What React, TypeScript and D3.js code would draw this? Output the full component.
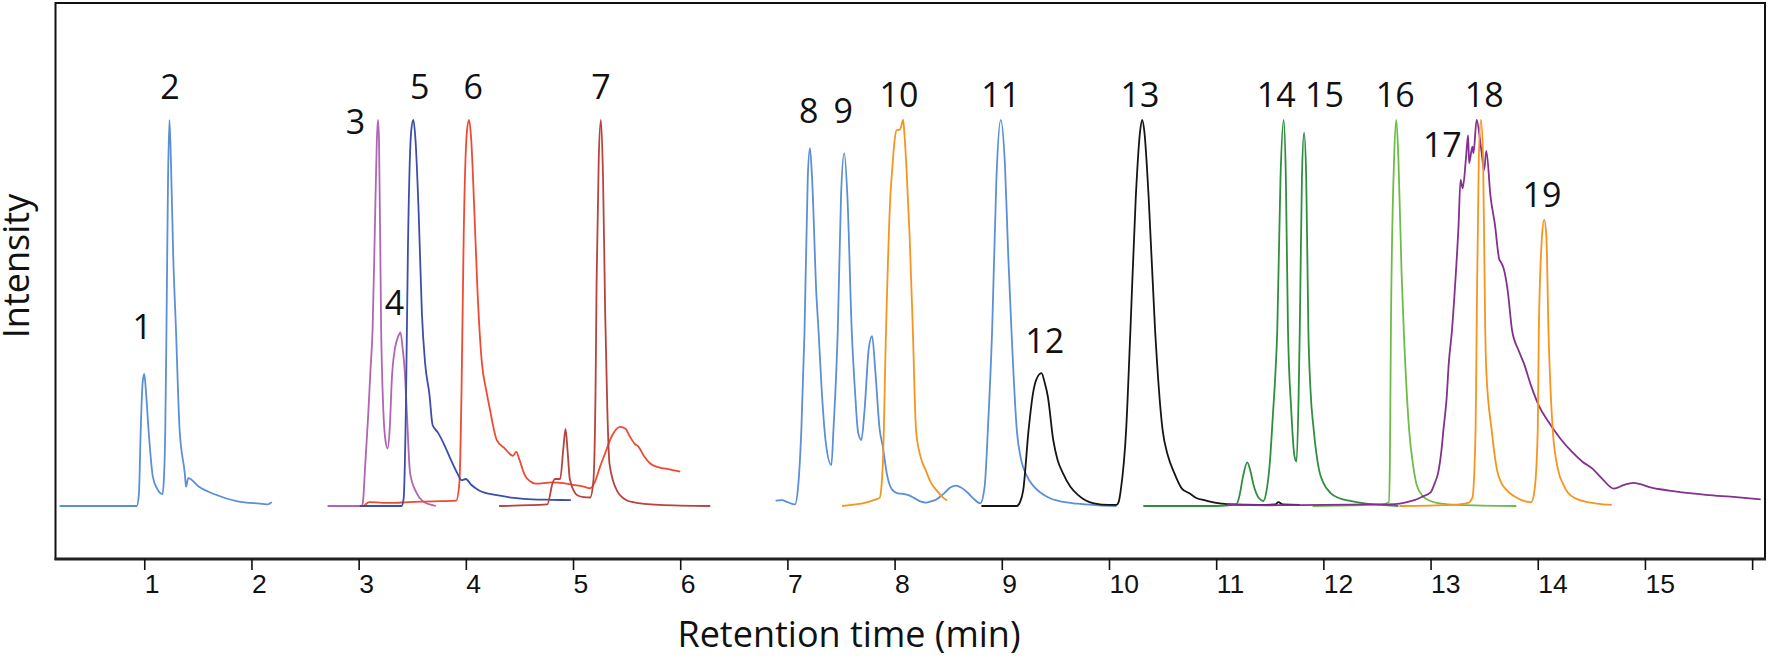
import React, { useEffect, useRef } from 'react';
import * as d3 from 'd3';

type Pt = [number, number];

// [retention time (min), relative intensity]
const trace1and2: Pt[] = [
  [0.21, 0], [0.93, 0], [0.95, 0.03], [0.967, 0.197], [0.985, 0.32], [1.0, 0.342], [1.015, 0.3],
  [1.04, 0.197], [1.08, 0.076], [1.12, 0.045], [1.17, 0.031], [1.185, 0.08], [1.196, 0.197],
  [1.207, 0.456], [1.222, 0.85], [1.235, 1.0], [1.25, 0.88], [1.27, 0.65], [1.296, 0.456],
  [1.33, 0.197], [1.378, 0.085], [1.39, 0.05], [1.41, 0.072], [1.51, 0.05], [1.65, 0.031],
  [1.87, 0.012], [2.12, 0.005], [2.15, 0.004], [2.19, 0.01]
];

const trace3and4: Pt[] = [
  [2.71, 0], [3.03, 0], [3.04, 0.01], [3.06, 0.1], [3.09, 0.24], [3.11, 0.35], [3.13, 0.456],
  [3.15, 0.7], [3.17, 0.95], [3.18, 1.0], [3.19, 0.95], [3.21, 0.456], [3.23, 0.25], [3.25, 0.17],
  [3.27, 0.149], [3.29, 0.2], [3.31, 0.33], [3.34, 0.41], [3.37, 0.44], [3.39, 0.45], [3.41, 0.41],
  [3.43, 0.35], [3.45, 0.24], [3.48, 0.085], [3.54, 0.034], [3.6, 0.012], [3.68, 0.003], [3.72, 0]
];

const trace5: Pt[] = [
  [3.01, 0], [3.4, 0], [3.42, 0.02], [3.44, 0.24], [3.46, 0.67], [3.49, 0.97], [3.51, 1.0],
  [3.53, 0.95], [3.56, 0.76], [3.59, 0.5], [3.62, 0.37], [3.66, 0.29], [3.69, 0.21], [3.74, 0.19],
  [3.8, 0.158], [3.86, 0.12], [3.92, 0.085], [3.96, 0.067], [4.0, 0.07], [4.05, 0.055],
  [4.12, 0.041], [4.29, 0.028], [4.45, 0.021], [4.62, 0.017], [4.8, 0.016], [4.98, 0.015]
];

const trace6: Pt[] = [
  [3.05, 0], [3.1, 0.01], [3.3, 0.008], [3.46, 0.01], [3.7, 0.012], [3.91, 0.014], [3.94, 0.06],
  [3.96, 0.3], [3.98, 0.7], [4.01, 0.97], [4.03, 1.0], [4.05, 0.95], [4.08, 0.76], [4.11, 0.55],
  [4.15, 0.37], [4.19, 0.3], [4.22, 0.257], [4.29, 0.17], [4.36, 0.15], [4.44, 0.13], [4.47, 0.14],
  [4.5, 0.12], [4.55, 0.08], [4.6, 0.064], [4.65, 0.058], [4.72, 0.059], [4.8, 0.061], [4.91, 0.059],
  [5.0, 0.055], [5.1, 0.05], [5.16, 0.046], [5.2, 0.06], [5.25, 0.1], [5.3, 0.137], [5.36, 0.18],
  [5.44, 0.205], [5.49, 0.2], [5.53, 0.18], [5.58, 0.16], [5.61, 0.154], [5.66, 0.13], [5.72, 0.11],
  [5.8, 0.1], [5.9, 0.095], [6.0, 0.089]
];

const trace7: Pt[] = [
  [4.31, 0], [4.76, 0.004], [4.81, 0.06], [4.83, 0.07], [4.88, 0.07], [4.91, 0.15], [4.93, 0.2],
  [4.95, 0.14], [4.97, 0.07], [5.04, 0.028], [5.1, 0.023], [5.16, 0.022], [5.19, 0.065],
  [5.21, 0.3], [5.22, 0.58], [5.24, 0.9], [5.26, 1.0], [5.28, 0.85], [5.3, 0.5], [5.32, 0.25],
  [5.34, 0.11], [5.41, 0.04], [5.5, 0.015], [5.56, 0.01], [5.8, 0.003], [6.28, 0]
];

const trace8to11: Pt[] = [
  [6.89, 0.014], [6.95, 0.015], [7.0, 0.01], [7.07, 0.004], [7.1, 0.05], [7.13, 0.197],
  [7.16, 0.456], [7.19, 0.85], [7.21, 0.927], [7.23, 0.85], [7.27, 0.55], [7.29, 0.456],
  [7.32, 0.3], [7.36, 0.16], [7.41, 0.106], [7.43, 0.2], [7.47, 0.456], [7.5, 0.8], [7.53, 0.914],
  [7.56, 0.8], [7.6, 0.456], [7.63, 0.3], [7.66, 0.19], [7.69, 0.171], [7.72, 0.25], [7.76, 0.41],
  [7.79, 0.44], [7.82, 0.35], [7.86, 0.2], [7.89, 0.154], [7.93, 0.08], [7.98, 0.041],
  [8.03, 0.033], [8.09, 0.031], [8.13, 0.028], [8.18, 0.021], [8.24, 0.012], [8.29, 0.009],
  [8.34, 0.012], [8.39, 0.017], [8.45, 0.03], [8.52, 0.048], [8.57, 0.053], [8.62, 0.048],
  [8.68, 0.035], [8.74, 0.018], [8.8, 0.007], [8.84, 0.05], [8.87, 0.197], [8.91, 0.456],
  [8.95, 0.85], [8.99, 1.0], [9.03, 0.88], [9.06, 0.65], [9.09, 0.456], [9.14, 0.197],
  [9.18, 0.12], [9.23, 0.08], [9.3, 0.05], [9.36, 0.035], [9.45, 0.02], [9.53, 0.013],
  [9.7, 0.006], [9.9, 0.002], [10.07, 0]
];

const trace10: Pt[] = [
  [7.51, 0], [7.6, 0.003], [7.75, 0.01], [7.83, 0.018], [7.86, 0.021], [7.88, 0.06], [7.89, 0.106],
  [7.92, 0.456], [7.96, 0.8], [7.98, 0.88], [8.0, 0.948], [8.02, 0.974], [8.05, 0.975], [8.08, 1.0],
  [8.09, 0.97], [8.11, 0.88], [8.14, 0.7], [8.17, 0.456], [8.2, 0.197], [8.24, 0.13], [8.29, 0.093],
  [8.34, 0.06], [8.39, 0.041], [8.44, 0.025], [8.49, 0.014]
];

const trace12and13: Pt[] = [
  [8.81, 0], [9.14, 0], [9.17, 0.01], [9.2, 0.041], [9.25, 0.197], [9.29, 0.29], [9.32, 0.326],
  [9.37, 0.344], [9.4, 0.32], [9.43, 0.283], [9.48, 0.171], [9.52, 0.12], [9.57, 0.085],
  [9.64, 0.05], [9.71, 0.029], [9.78, 0.015], [9.86, 0.007], [10.0, 0.003], [10.07, 0.003],
  [10.09, 0.01], [10.11, 0.041], [10.16, 0.197], [10.2, 0.456], [10.25, 0.8], [10.29, 0.97],
  [10.31, 1.0], [10.33, 0.97], [10.37, 0.8], [10.43, 0.456], [10.5, 0.197], [10.55, 0.13],
  [10.61, 0.085], [10.68, 0.045], [10.75, 0.033], [10.82, 0.02], [10.89, 0.015], [11.0, 0.008],
  [11.1, 0.005], [11.4, 0.003], [11.55, 0.004], [11.58, 0.01], [11.62, 0.004], [11.78, 0.003]
];

const trace14and15: Pt[] = [
  [10.32, 0], [11.0, 0], [11.19, 0.005], [11.22, 0.03], [11.25, 0.076], [11.29, 0.113],
  [11.32, 0.09], [11.35, 0.053], [11.4, 0.02], [11.44, 0.013], [11.47, 0.04], [11.5, 0.11],
  [11.53, 0.24], [11.55, 0.33], [11.57, 0.456], [11.6, 0.85], [11.63, 1.0], [11.65, 0.85],
  [11.67, 0.456], [11.7, 0.25], [11.73, 0.13], [11.75, 0.115], [11.77, 0.3], [11.78, 0.456],
  [11.8, 0.85], [11.82, 0.967], [11.84, 0.85], [11.86, 0.456], [11.88, 0.3], [11.91, 0.197],
  [11.96, 0.093], [12.0, 0.06], [12.07, 0.033], [12.15, 0.02], [12.25, 0.013], [12.4, 0.006],
  [12.53, 0.003], [12.7, 0]
];

const trace16: Pt[] = [
  [11.9, 0], [12.3, 0.002], [12.55, 0.004], [12.61, 0.01], [12.62, 0.1], [12.63, 0.456],
  [12.66, 0.9], [12.68, 1.0], [12.7, 0.9], [12.73, 0.6], [12.75, 0.456], [12.8, 0.197],
  [12.84, 0.1], [12.87, 0.055], [12.93, 0.025], [13.0, 0.013], [13.1, 0.006], [13.25, 0.003],
  [13.8, 0]
];

const trace17: Pt[] = [
  [11.1, 0.003], [11.5, 0.002], [12.0, 0.003], [12.4, 0.004], [12.67, 0.005], [12.78, 0.01],
  [12.85, 0.015], [12.93, 0.025], [13.0, 0.035], [13.04, 0.06], [13.07, 0.085], [13.1, 0.14],
  [13.12, 0.197], [13.15, 0.28], [13.17, 0.37], [13.2, 0.456], [13.23, 0.577], [13.26, 0.72],
  [13.28, 0.845], [13.3, 0.823], [13.33, 0.9], [13.35, 0.961], [13.36, 0.888], [13.39, 0.931],
  [13.4, 0.914], [13.43, 1.0], [13.47, 0.93], [13.5, 0.87], [13.52, 0.92], [13.56, 0.8],
  [13.6, 0.73], [13.64, 0.64], [13.66, 0.63], [13.68, 0.617], [13.72, 0.557], [13.76, 0.456],
  [13.82, 0.404], [13.87, 0.37], [13.94, 0.31], [14.01, 0.26], [14.1, 0.218], [14.21, 0.175],
  [14.32, 0.14], [14.42, 0.114], [14.51, 0.097], [14.6, 0.071], [14.71, 0.045], [14.8, 0.054],
  [14.89, 0.06], [15.07, 0.047], [15.28, 0.038], [15.57, 0.029], [15.85, 0.023], [16.08, 0.017]
];

const trace18and19: Pt[] = [
  [12.71, 0], [13.2, 0.003], [13.35, 0.008], [13.39, 0.021], [13.42, 0.197], [13.43, 0.456],
  [13.45, 0.9], [13.47, 1.0], [13.49, 0.9], [13.51, 0.456], [13.52, 0.35], [13.57, 0.197],
  [13.62, 0.093], [13.66, 0.06], [13.71, 0.041], [13.78, 0.025], [13.85, 0.015], [13.94, 0.01],
  [13.97, 0.041], [14.0, 0.197], [14.01, 0.456], [14.04, 0.7], [14.06, 0.741], [14.08, 0.7],
  [14.1, 0.456], [14.14, 0.197], [14.19, 0.093], [14.24, 0.055], [14.28, 0.035], [14.35, 0.02],
  [14.42, 0.013], [14.55, 0.006], [14.69, 0.003]
];

// peak numbers, anchored in data units (time, intensity)
const peakNames = ['1', '2', '3', '4', '5', '6', '7', '8', '9', '10', '11', '12', '13', '14', '15', '16', '17', '18', '19'];
const peakLabelTimes = [0.98, 1.24, 2.97, 3.335, 3.57, 4.07, 5.26, 7.2, 7.52, 8.04, 8.99, 9.4, 10.29, 11.56, 12.01, 12.67, 13.11, 13.5, 14.04];
const peakLabelHeights = [0.433, 1.054, 0.964, 0.495, 1.054, 1.054, 1.054, 0.992, 0.992, 1.034, 1.034, 0.396, 1.034, 1.034, 1.034, 1.034, 0.904, 1.034, 0.775];

const xTicks = [1, 2, 3, 4, 5, 6, 7, 8, 9, 10, 11, 12, 13, 14, 15, 16];
const xTickLabels = ['1', '2', '3', '4', '5', '6', '7', '8', '9', '10', '11', '12', '13', '14', '15', ''];

const traces = [
  { data: trace1and2, color: '#5b8fd7' },
  { data: trace3and4, color: '#b264b5' },
  { data: trace6, color: '#ef4a32' },
  { data: trace5, color: '#3b4fa8' },
  { data: trace7, color: '#b8433c' },
  { data: trace8to11, color: '#5b8fd7' },
  { data: trace10, color: '#f7941e' },
  { data: trace12and13, color: '#151515' },
  { data: trace14and15, color: '#2f8f3e' },
  { data: trace16, color: '#6cbd47' },
  { data: trace17, color: '#84308f' },
  { data: trace18and19, color: '#f7941e' }
];

const W = 1770;
const H = 658;
const box = { left: 55.5, right: 1765, top: 3, bottom: 559 };

const App: React.FC = () => {
  const axisRef = useRef<SVGGElement>(null);

  const x = d3.scaleLinear().domain([0.172, 16.12]).range([box.left, box.right]);
  const y = d3.scaleLinear().domain([0, 1]).range([506, 120]);

  const line = d3.line<Pt>()
    .x(d => x(d[0]))
    .y(d => y(d[1]))
    .curve(d3.curveMonotoneX);

  useEffect(() => {
    if (!axisRef.current) return;
    const g = d3.select(axisRef.current);
    g.selectAll('*').remove();
    g.call(
      d3.axisBottom(x)
        .tickValues(xTicks)
        .tickSize(11)
        .tickFormat((_d, i) => xTickLabels[i])
    );
    g.select('.domain').remove();
    g.selectAll('.tick line').attr('stroke', '#111').attr('stroke-width', 1.6);
    g.selectAll('.tick text')
      .attr('text-anchor', 'start')
      .attr('x', 0)
      .attr('y', 34)
      .attr('dy', 0)
      .attr('fill', '#111')
      .style('font-family', '"Liberation Sans", Arial, sans-serif')
      .style('font-size', '26.5px');
  }, []);

  return (
    <svg
      width={W}
      height={H}
      style={{ position: 'absolute', left: 0, top: 0, background: '#fff', display: 'block' }}
    >
      <defs>
        <clipPath id="plotClip">
          <rect x={box.left} y={box.top} width={box.right - box.left} height={box.bottom - box.top} />
        </clipPath>
      </defs>

      <g clipPath="url(#plotClip)">
        {traces.map((t, i) => (
          <path key={i} d={line(t.data) || ''} fill="none" stroke={t.color} strokeWidth={1.8} strokeLinejoin="round" />
        ))}
      </g>

      {peakNames.map((name, i) => (
        <text
          key={name}
          x={x(peakLabelTimes[i])}
          y={y(peakLabelHeights[i])}
          textAnchor="middle"
          style={{ fontFamily: '"Open Sans", sans-serif', fontSize: '34px', fill: '#111' }}
        >
          {name}
        </text>
      ))}

      <rect
        x={box.left}
        y={box.top}
        width={box.right - box.left}
        height={box.bottom - box.top}
        fill="none"
        stroke="#111"
        strokeWidth={2}
      />
      <line x1={box.left - 1} x2={box.right + 1} y1={box.bottom} y2={box.bottom} stroke="#222" strokeWidth={3.2} />

      <g ref={axisRef} transform={`translate(0,${box.bottom})`} />

      <text
        x={849}
        y={647}
        textAnchor="middle"
        style={{ fontFamily: '"Open Sans", sans-serif', fontSize: '36px', fill: '#111' }}
      >
        Retention time (min)
      </text>
      <text
        transform="translate(29,266) rotate(-90)"
        textAnchor="middle"
        style={{ fontFamily: '"Open Sans", sans-serif', fontSize: '36px', fill: '#111' }}
      >
        Intensity
      </text>
    </svg>
  );
};

export default App;
